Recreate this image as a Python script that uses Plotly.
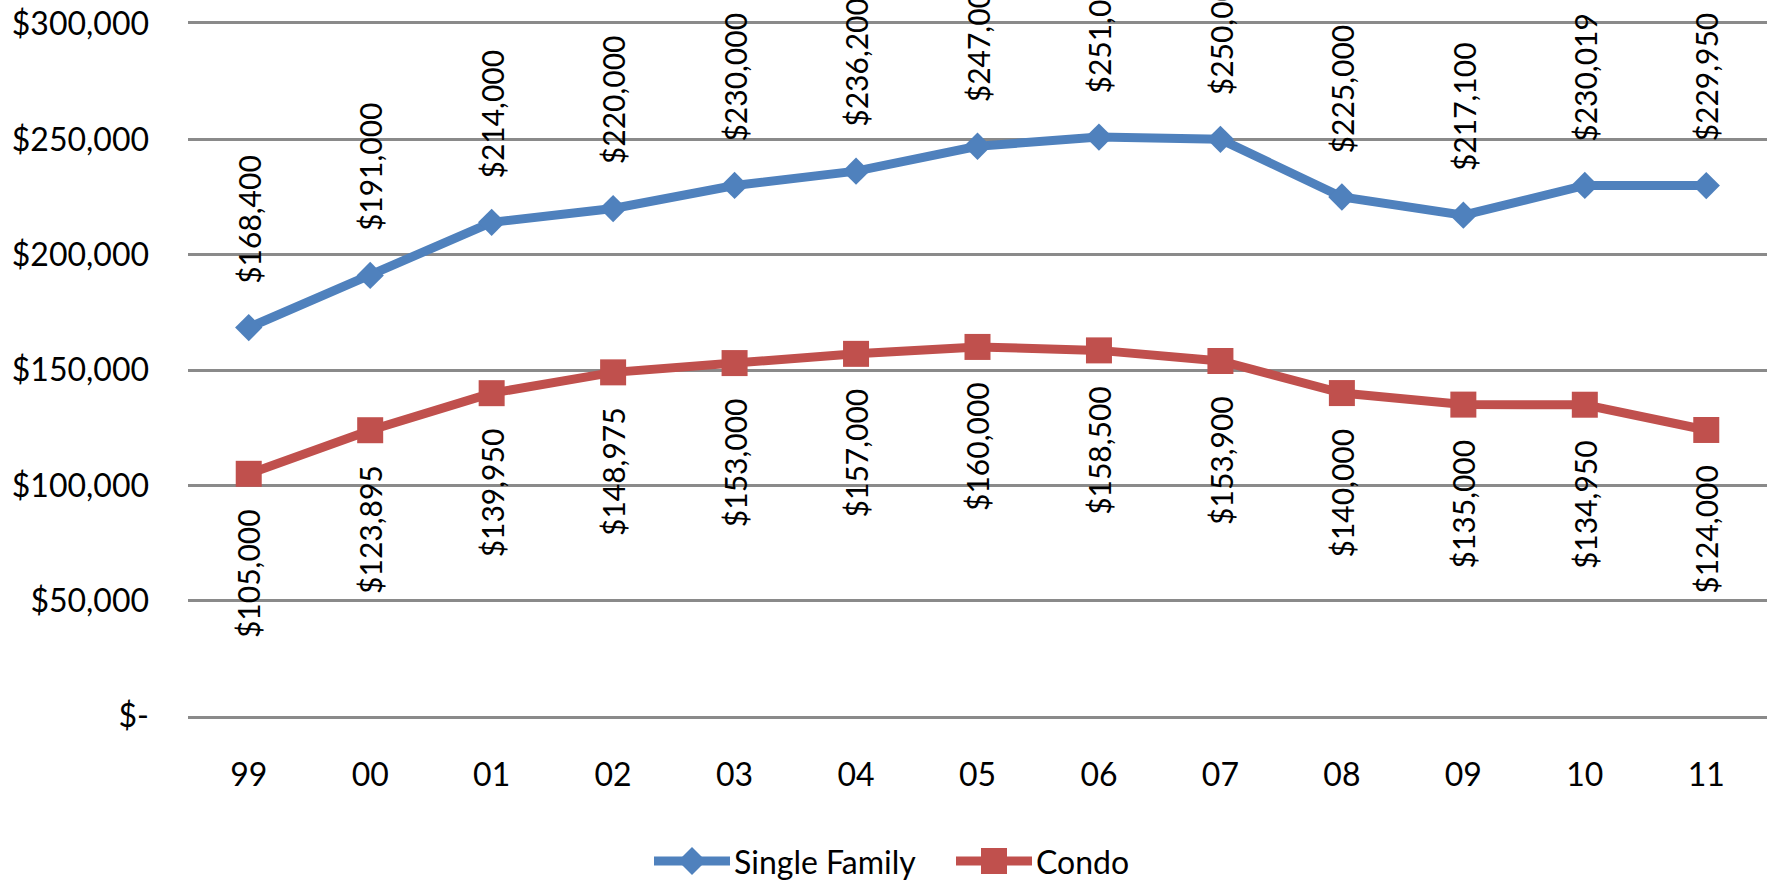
import plotly.graph_objects as go

# Median sale prices by year
years = ["99", "00", "01", "02", "03", "04", "05", "06", "07", "08", "09", "10", "11"]
single_family = [168400, 191000, 214000, 220000, 230000, 236200, 247000,
                 251000, 250000, 225000, 217100, 230019, 229950]
condo = [105000, 123895, 139950, 148975, 153000, 157000, 160000,
         158500, 153900, 140000, 135000, 134950, 124000]

y_ticks = [0, 50000, 100000, 150000, 200000, 250000, 300000]
y_tick_text = ["$-", "$50,000", "$100,000", "$150,000", "$200,000", "$250,000", "$300,000"]

BLUE = "#4F81BD"
RED = "#C0504D"
GRID = "#8A8A8A"
FONT = "Lato"

W, H = 1774, 881
ML, MR, MT, MB = 188, 7, 24, 165
PW, PH = W - ML - MR, H - MT - MB


def px_to_paper_x(px):
    return (px - ML) / PW


def px_to_paper_y(py):
    return (H - MB - py) / PH


def money(v):
    return "${:,.0f}".format(v)


fig = go.Figure()

fig.add_trace(go.Scatter(
    x=years, y=single_family, name="Single Family", mode="lines+markers",
    line=dict(color=BLUE, width=9),
    marker=dict(symbol="diamond", size=21, color=BLUE),
    showlegend=False,
))
fig.add_trace(go.Scatter(
    x=years, y=condo, name="Condo", mode="lines+markers",
    line=dict(color=RED, width=9),
    marker=dict(symbol="square", size=26, color=RED),
    showlegend=False,
))

# Value labels, rotated; x given as the category index so that names
# like "00" are not read as numbers
annotations = []
for i, v in enumerate(single_family):
    annotations.append(dict(
        x=i, y=v, xref="x", yref="y", text=money(v), showarrow=False,
        textangle=-90, xanchor="center", yanchor="bottom", yshift=42,
        font=dict(family=FONT, size=30, color="black"),
    ))
for i, v in enumerate(condo):
    annotations.append(dict(
        x=i, y=v, xref="x", yref="y", text=money(v), showarrow=False,
        textangle=-90, xanchor="center", yanchor="top", yshift=-33,
        font=dict(family=FONT, size=30, color="black"),
    ))

# Legend drawn below the plot: line sample with its marker, then the name
legend_y = px_to_paper_y(861)
shapes = []
legend_items = [
    ("Single Family", BLUE, 654, 730, "diamond"),
    ("Condo", RED, 956, 1032, "square"),
]
for name, color, x0, x1, sym in legend_items:
    shapes.append(dict(
        type="line", xref="paper", yref="paper",
        x0=px_to_paper_x(x0), x1=px_to_paper_x(x1), y0=legend_y, y1=legend_y,
        line=dict(color=color, width=9), layer="above",
    ))
    cx = px_to_paper_x((x0 + x1) / 2)
    if sym == "diamond":
        path = "M-14,0 L0,-14 L14,0 L0,14 Z"
    else:
        path = "M-13,-13 L13,-13 L13,13 L-13,13 Z"
    shapes.append(dict(
        type="path", xref="paper", yref="paper",
        xsizemode="pixel", ysizemode="pixel", xanchor=cx, yanchor=legend_y,
        path=path, fillcolor=color, line=dict(width=0), layer="above",
    ))
    annotations.append(dict(
        x=px_to_paper_x(x1 + 2), y=legend_y, xref="paper", yref="paper",
        text=name, showarrow=False, xanchor="left", yanchor="middle",
        font=dict(family=FONT, size=32, color="black"),
    ))

fig.update_layout(
    width=W, height=H,
    margin=dict(l=ML, r=MR, t=MT, b=MB, pad=0, autoexpand=False),
    paper_bgcolor="white", plot_bgcolor="white",
    font=dict(family=FONT, size=32, color="black"),
    showlegend=False,
    annotations=annotations,
    shapes=shapes,
)
# The x axis line and its mirror give the $0 and $300,000 rules
fig.update_xaxes(
    type="category", categoryorder="array", categoryarray=years,
    range=[-0.5, len(years) - 0.5], automargin=False,
    showgrid=False, zeroline=False, ticks="",
    showline=True, mirror=True, linecolor=GRID, linewidth=2.5,
    ticklabelstandoff=29,
    tickfont=dict(family=FONT, size=32, color="black"),
)
fig.update_yaxes(
    range=[0, 300000], tickvals=y_ticks, ticktext=y_tick_text,
    automargin=False,
    showgrid=True, gridcolor=GRID, gridwidth=2.5,
    showline=False, zeroline=False, ticks="",
    ticklabelstandoff=38,
    tickfont=dict(family=FONT, size=32, color="black"),
)

fig.write_html("out.html")
